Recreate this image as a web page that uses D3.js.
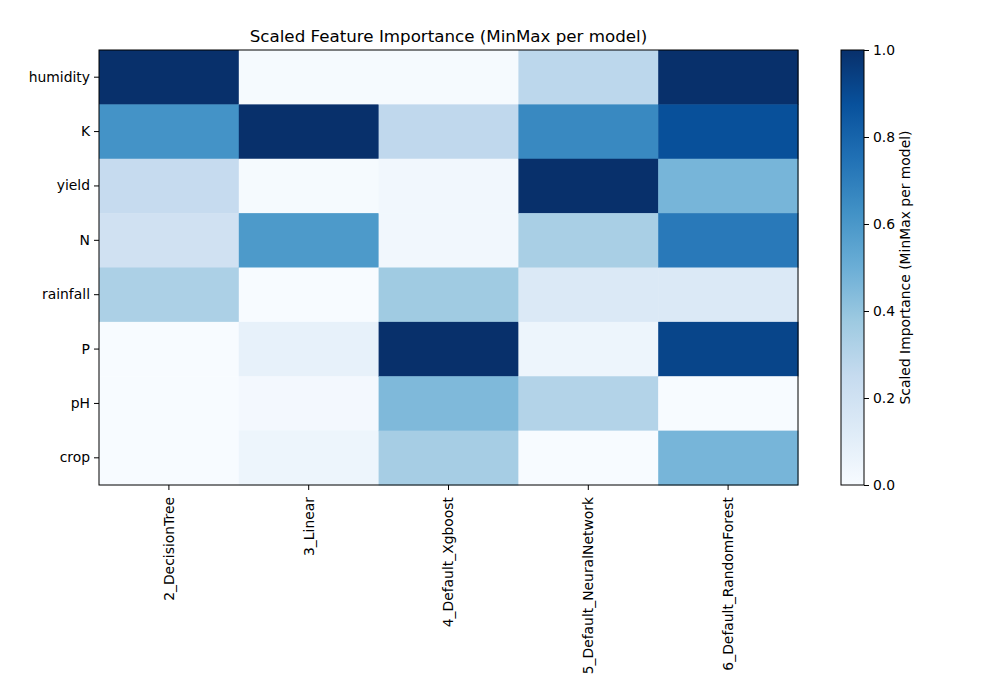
<!DOCTYPE html>
<html>
<head>
<meta charset="utf-8">
<script src="https://cdn.jsdelivr.net/npm/d3@7"></script>
<style>
  body { margin: 0; background: #fff; }
  svg { font-family: "DejaVu Sans", sans-serif; }
</style>
</head>
<body>
<svg id="chart" width="1000" height="700"></svg>
<script>
// models (columns) and features (rows)
const models = ["2_DecisionTree", "3_Linear", "4_Default_Xgboost", "5_Default_NeuralNetwork", "6_Default_RandomForest"]
const features = ["humidity", "K", "yield", "N", "rainfall", "P", "pH", "crop"]

// scaled importance, one array per model, in feature order
const decisionTree = [1.0, 0.62, 0.25, 0.20, 0.33, 0.0, 0.0, 0.0]
const linear = [0.01, 1.0, 0.01, 0.59, 0.0, 0.08, 0.02, 0.05]
const xgboost = [0.01, 0.27, 0.03, 0.03, 0.37, 1.0, 0.45, 0.35]
const neuralNet = [0.28, 0.66, 1.0, 0.34, 0.14, 0.05, 0.31, 0.0]
const randomForest = [1.0, 0.88, 0.47, 0.72, 0.14, 0.92, 0.0, 0.47]

const colorTicks = [0.0, 0.2, 0.4, 0.6, 0.8, 1.0]

const series = [decisionTree, linear, xgboost, neuralNet, randomForest]
const cells = []
series.forEach((vals, i) => {
    vals.forEach((v, j) => cells.push({model: models[i], feature: features[j], value: v}))
})

const svg = d3.select("#chart")
const plotLeft = 99, plotRight = 798, plotTop = 50, plotBottom = 485
const tickFont = 13.9

const x = d3.scaleBand().domain(models).range([plotLeft, plotRight])
const y = d3.scaleBand().domain(features).range([plotTop, plotBottom])

// matplotlib "Blues"
const blues = ["#f7fbff", "#deebf7", "#c6dbef", "#9ecae1", "#6baed6", "#4292c6", "#2171b5", "#08519c", "#08306b"]
const color = d3.scaleLinear()
    .domain(d3.range(9).map(i => i / 8))
    .range(blues)
    .interpolate(d3.interpolateRgb)

svg.append("g").selectAll("rect")
    .data(cells)
    .join("rect")
    .attr("x", d => x(d.model))
    .attr("y", d => y(d.feature))
    .attr("width", x.bandwidth() + 0.5)
    .attr("height", y.bandwidth() + 0.5)
    .attr("fill", d => color(d.value))

svg.append("rect")
    .attr("x", plotLeft).attr("y", plotTop)
    .attr("width", plotRight - plotLeft).attr("height", plotBottom - plotTop)
    .attr("fill", "none").attr("stroke", "#000").attr("stroke-width", 1)

const xAxis = svg.append("g")
    .attr("transform", `translate(0,${plotBottom})`)
    .call(d3.axisBottom(x).tickSize(5).tickPadding(4))
xAxis.select(".domain").remove()
xAxis.selectAll("text")
    .attr("font-size", tickFont)
    .attr("font-family", "DejaVu Sans")
    .attr("fill", "#000")
    .attr("transform", "rotate(-90)")
    .attr("text-anchor", "end")
    .attr("dy", "0.35em")
    .attr("x", -12)
    .attr("y", 0)

const yAxis = svg.append("g")
    .attr("transform", `translate(${plotLeft},0)`)
    .call(d3.axisLeft(y).tickSize(5).tickPadding(4))
yAxis.select(".domain").remove()
yAxis.selectAll("text")
    .attr("font-size", tickFont)
    .attr("font-family", "DejaVu Sans")
    .attr("fill", "#000")

svg.append("text")
    .attr("x", (plotLeft + plotRight) / 2)
    .attr("y", 42)
    .attr("text-anchor", "middle")
    .attr("font-size", 16.7)
    .attr("fill", "#000")
    .text("Scaled Feature Importance (MinMax per model)")

// colorbar
const cbLeft = 841, cbWidth = 23
const cbScale = d3.scaleLinear().domain([0, 1]).range([plotBottom, plotTop])

const defs = svg.append("defs")
const grad = defs.append("linearGradient")
    .attr("id", "cbgrad")
    .attr("x1", 0).attr("y1", 1).attr("x2", 0).attr("y2", 0)
grad.selectAll("stop")
    .data(d3.range(9).map(i => i / 8))
    .join("stop")
    .attr("offset", d => d)
    .attr("stop-color", d => color(d))

svg.append("rect")
    .attr("x", cbLeft).attr("y", plotTop)
    .attr("width", cbWidth).attr("height", plotBottom - plotTop)
    .attr("fill", "url(#cbgrad)")
    .attr("stroke", "#000").attr("stroke-width", 1)

const cbAxis = svg.append("g")
    .attr("transform", `translate(${cbLeft + cbWidth},0)`)
    .call(d3.axisRight(cbScale).tickValues(colorTicks).tickFormat(d3.format(".1f")).tickSize(5).tickPadding(4))
cbAxis.select(".domain").remove()
cbAxis.selectAll("text")
    .attr("font-size", tickFont)
    .attr("font-family", "DejaVu Sans")
    .attr("fill", "#000")

svg.append("text")
    .attr("transform", `translate(910,${(plotTop + plotBottom) / 2}) rotate(-90)`)
    .attr("text-anchor", "middle")
    .attr("font-size", tickFont)
    .attr("fill", "#000")
    .text("Scaled Importance (MinMax per model)")
</script>
</body>
</html>
